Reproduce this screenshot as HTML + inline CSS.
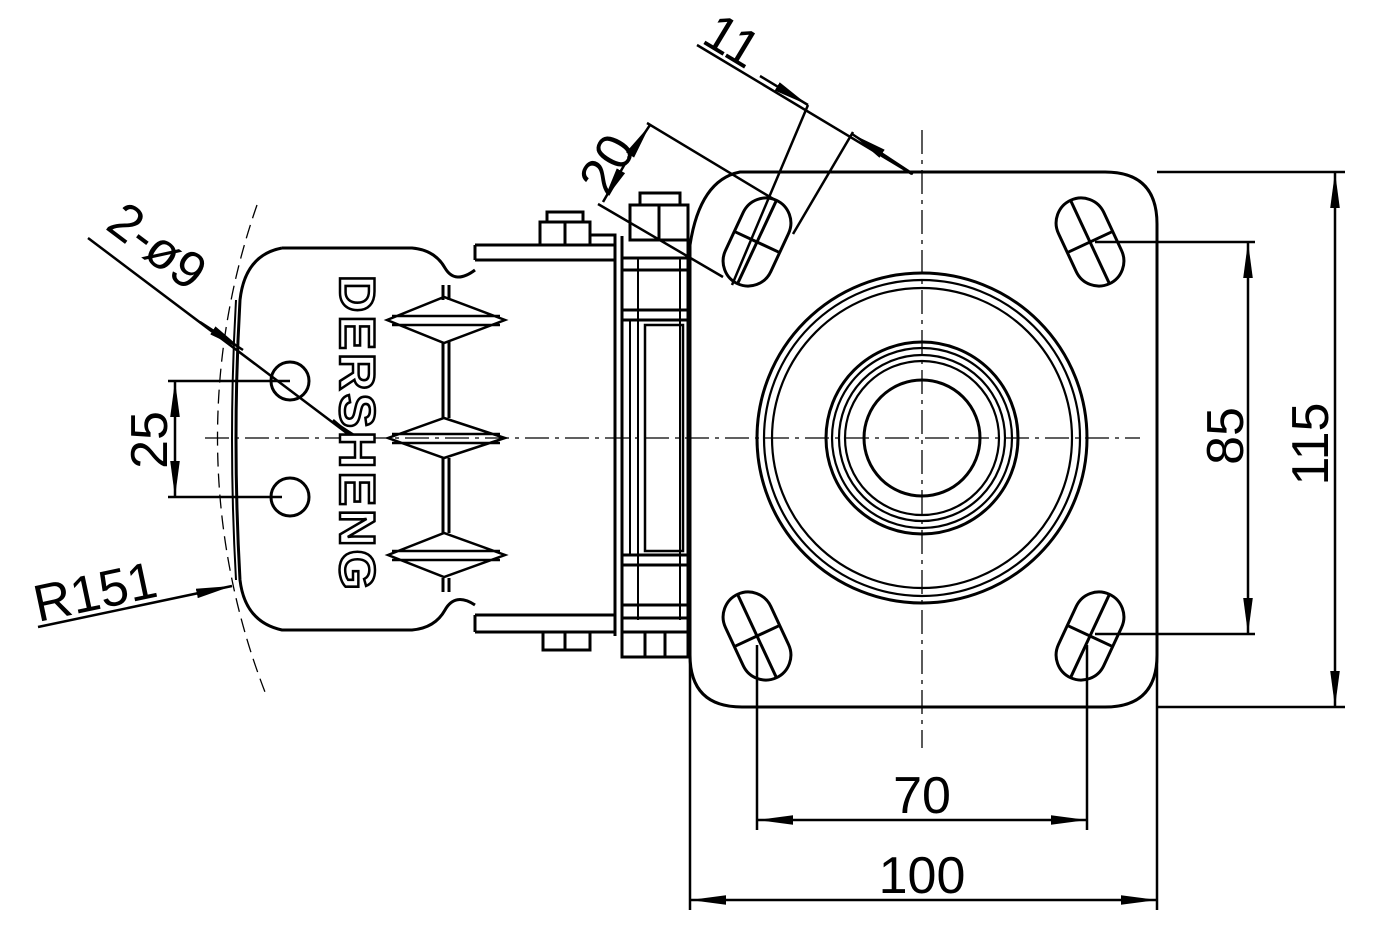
<!DOCTYPE html>
<html><head><meta charset="utf-8"><style>html,body{margin:0;padding:0;background:#fff}svg{display:block}</style></head>
<body>
<svg width="1391" height="943" viewBox="0 0 1391 943" xmlns="http://www.w3.org/2000/svg" font-family="Liberation Sans, sans-serif">
<defs>
<marker id="b" viewBox="0 0 30 10" refX="30" refY="5" markerWidth="36" markerHeight="13" markerUnits="userSpaceOnUse" orient="auto-start-reverse"><path d="M0,1L30,5L0,9z" fill="#000"/></marker>
</defs>
<g fill="none" stroke="#000" stroke-width="3">
<line x1="205" y1="438" x2="1140" y2="438" stroke-width="1.3" stroke-dasharray="24,6,4,6"/>
<line x1="922" y1="130" x2="922" y2="748" stroke-width="1.3" stroke-dasharray="24,6,4,6"/>
<path d="M257,205 A705,705 0 0 0 265,692" stroke-width="1.3" stroke-dasharray="14,7"/>
<path d="M740,172 H1105 Q1157,172 1157,224 V655 Q1157,707 1105,707 H742 Q690,707 690,655 V245 Q700,180 740,172 Z"/>
<circle cx="922" cy="438" r="165"/>
<circle cx="922" cy="438" r="158" stroke-width="2.2"/>
<circle cx="922" cy="438" r="150" stroke-width="2.2"/>
<circle cx="922" cy="438" r="96"/>
<circle cx="922" cy="438" r="90" stroke-width="2.2"/>
<circle cx="922" cy="438" r="83" stroke-width="2.2"/>
<circle cx="922" cy="438" r="77" stroke-width="2.2"/>
<circle cx="922" cy="438" r="58"/>
<g transform="translate(757,242) rotate(25)"><rect x="-25" y="-46" width="50" height="92" rx="25"/><line x1="0" y1="-46" x2="0" y2="46"/><line x1="-25" y1="0" x2="25" y2="0"/></g>
<g transform="translate(1090,242) rotate(-25)"><rect x="-25" y="-46" width="50" height="92" rx="25"/><line x1="0" y1="-46" x2="0" y2="46"/><line x1="-25" y1="0" x2="25" y2="0"/></g>
<g transform="translate(757,636) rotate(-25)"><rect x="-25" y="-46" width="50" height="92" rx="25"/><line x1="0" y1="-46" x2="0" y2="46"/><line x1="-25" y1="0" x2="25" y2="0"/></g>
<g transform="translate(1090,636) rotate(25)"><rect x="-25" y="-46" width="50" height="92" rx="25"/><line x1="0" y1="-46" x2="0" y2="46"/><line x1="-25" y1="0" x2="25" y2="0"/></g>
<path d="M475,245 H615 M475,260 H615 M475,615 H615 M475,632 H615 M475,245 V260 M475,615 V632"/>
<path d="M615,240 V636 M622,236 V640 M688,236 V640"/>
<path d="M622,258 H688 M622,270 H688 M622,310 H688 M622,320 H688 M622,555 H688 M622,565 H688 M622,605 H688 M622,618 H688"/>
<rect x="645" y="325" width="38" height="226" stroke-width="2.5"/>
<path d="M630,320 V555 M638,258 V620 M680,258 V620" stroke-width="2"/>
<rect x="540" y="222" width="50" height="23"/><rect x="547" y="212" width="36" height="10"/><line x1="565" y1="222" x2="565" y2="245"/>
<rect x="590" y="235" width="25" height="10"/>
<rect x="630" y="205" width="58" height="35"/><rect x="640" y="193" width="40" height="12"/><line x1="659" y1="205" x2="659" y2="240"/>
<rect x="543" y="632" width="47" height="18"/><line x1="565" y1="632" x2="565" y2="650"/>
<rect x="622" y="632" width="66" height="25"/><line x1="645" y1="632" x2="645" y2="657"/><line x1="665" y1="632" x2="665" y2="657"/>
<path d="M282,248 H412 Q435,250 445,268 Q455,285 475,270 M282,248 Q245,255 240,300 Q232,438 240,580 Q245,622 282,630 H412 Q435,628 445,610 Q455,592 475,605"/>
<path d="M236,300 Q228,438 236,580" stroke-width="2"/>
<line x1="443" y1="285" x2="443" y2="300"/><line x1="449" y1="285" x2="449" y2="300"/>
<line x1="443" y1="342" x2="443" y2="418"/><line x1="449" y1="342" x2="449" y2="418"/>
<line x1="443" y1="458" x2="443" y2="533"/><line x1="449" y1="458" x2="449" y2="533"/>
<line x1="443" y1="578" x2="443" y2="592"/><line x1="449" y1="578" x2="449" y2="592"/>
<g stroke-width="2.5"><path d="M387,320 L444,297 L505,320 L444,343 Z M392,316 H500 M392,325 H500"/>
<path d="M388,438 L444,418 L505,438 L444,458 Z M392,434 H500 M392,443 H500"/>
<path d="M388,555 L444,533 L505,555 L444,577 Z M392,551 H500 M392,560 H500"/></g>
<circle cx="290" cy="381" r="19"/><circle cx="290" cy="497" r="19"/>
<g stroke-width="2.5">
<line x1="168" y1="381" x2="290" y2="381"/><line x1="168" y1="497" x2="282" y2="497"/>
<line x1="175" y1="381" x2="175" y2="497" marker-start="url(#b)" marker-end="url(#b)"/>
<line x1="88" y1="238" x2="356" y2="440"/>
<line x1="200" y1="322" x2="243" y2="350" marker-end="url(#b)"/>
<line x1="360" y1="443" x2="333" y2="420" marker-end="url(#b)"/>
<line x1="38" y1="627" x2="232" y2="586" marker-end="url(#b)"/>
<line x1="697" y1="45" x2="912" y2="174"/>
<line x1="760" y1="76" x2="808" y2="105" marker-end="url(#b)"/>
<line x1="913" y1="174" x2="852" y2="134" marker-end="url(#b)"/>
<line x1="808" y1="105" x2="732" y2="285"/><line x1="853" y1="132" x2="793" y2="234"/>
<line x1="647" y1="123" x2="775" y2="200"/><line x1="598" y1="204" x2="723" y2="277"/>
<line x1="628" y1="158" x2="650" y2="125" marker-end="url(#b)"/>
<line x1="626" y1="162" x2="603" y2="202" marker-end="url(#b)"/>
<line x1="1157" y1="172" x2="1345" y2="172"/><line x1="1157" y1="707" x2="1345" y2="707"/>
<line x1="1335" y1="172" x2="1335" y2="707" marker-start="url(#b)" marker-end="url(#b)"/>
<line x1="1095" y1="242" x2="1255" y2="242"/><line x1="1095" y1="634" x2="1255" y2="634"/>
<line x1="1248" y1="242" x2="1248" y2="634" marker-start="url(#b)" marker-end="url(#b)"/>
<line x1="757" y1="645" x2="757" y2="830"/><line x1="1087" y1="645" x2="1087" y2="830"/>
<line x1="757" y1="820" x2="1087" y2="820" marker-start="url(#b)" marker-end="url(#b)"/>
<line x1="690" y1="655" x2="690" y2="910"/><line x1="1157" y1="650" x2="1157" y2="910"/>
<line x1="690" y1="900" x2="1157" y2="900" marker-start="url(#b)" marker-end="url(#b)"/>
</g>
</g>
<g fill="#000" font-size="52">
<text x="922" y="813" text-anchor="middle">70</text>
<text x="922" y="893" text-anchor="middle">100</text>
<text transform="translate(1243,436) rotate(-90)" text-anchor="middle">85</text>
<text transform="translate(1328,444) rotate(-90)" text-anchor="middle">115</text>
<text transform="translate(167,440) rotate(-90)" text-anchor="middle">25</text>
<text transform="translate(38,622) rotate(-12)">R151</text>
<text transform="translate(104,228) rotate(37)">2-ø9</text>
<text transform="translate(700,42) rotate(31)">11</text>
<text transform="translate(608,198) rotate(-60)">20</text>
</g>
<text transform="translate(340,275) rotate(90)" font-size="50" font-weight="bold" fill="#fff" stroke="#000" stroke-width="2.5" letter-spacing="3" textLength="318" lengthAdjust="spacingAndGlyphs">DERSHENG</text>
</svg>
</body></html>
